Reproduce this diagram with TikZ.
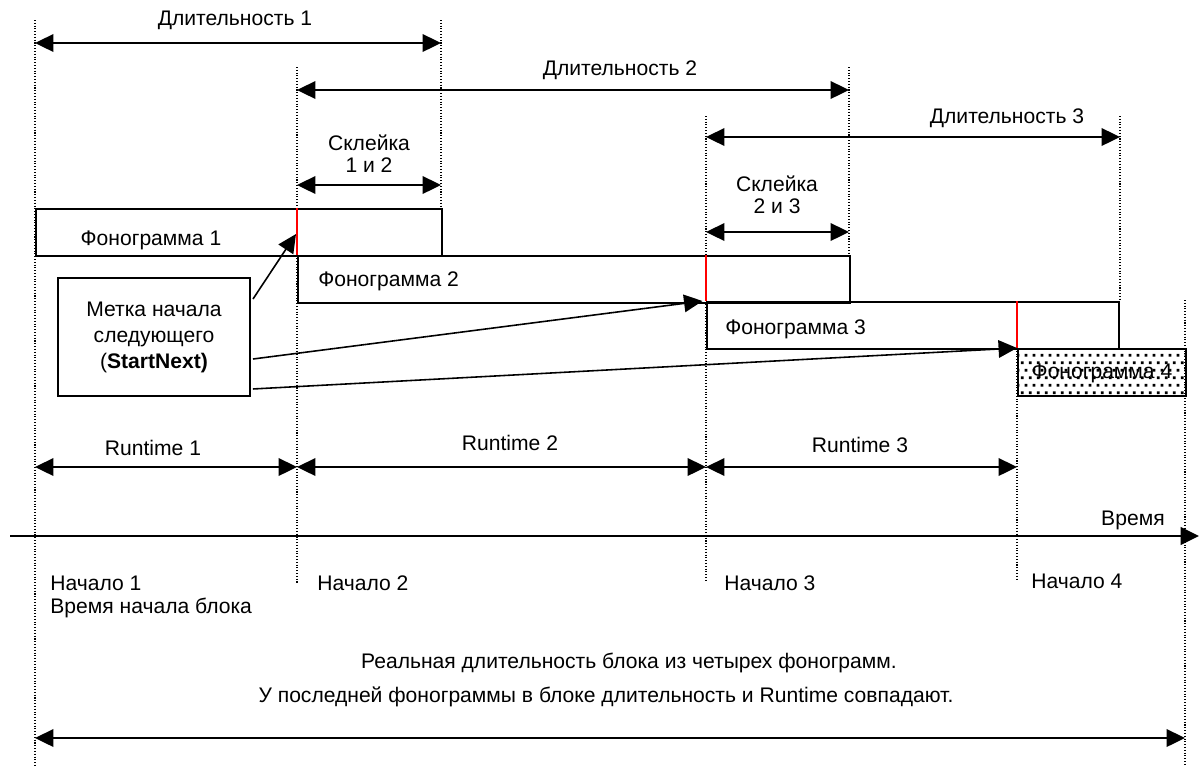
\documentclass[tikz,border=0pt]{standalone}
\usepackage{fontspec}
\setmainfont{Liberation Sans}
\usetikzlibrary{arrows.meta,patterns}

\pgfdeclarepatternformonly{stagdots}{\pgfpointorigin}{\pgfpoint{4.4pt}{8.8pt}}{\pgfpoint{4.4pt}{8.8pt}}{%
  \pgfpathrectangle{\pgfpoint{0.5pt}{0.5pt}}{\pgfpoint{1.7pt}{1.7pt}}%
  \pgfpathrectangle{\pgfpoint{2.7pt}{4.9pt}}{\pgfpoint{1.7pt}{1.7pt}}%
  \pgfusepath{fill}}

\tikzset{
  dim/.style={{Triangle[length=10.5pt,width=10pt]}-{Triangle[length=10.5pt,width=10pt]},line width=1.1pt},
  guide/.style={densely dotted,line width=0.6pt},
  track/.style={draw,line width=1.1pt,minimum height=47*0.02cm,inner sep=0pt},
  lbl/.style={font=\fontsize{12pt}{12.5pt}\selectfont,inner sep=0pt}
}

\begin{document}
\begin{tikzpicture}[x=0.02cm,y=-0.02cm]
\useasboundingbox (0,0) rectangle (1199,765);

% start points on the time axis
\coordinate (t1) at (35,0);
\coordinate (t2) at (297,0);
\coordinate (t3) at (706,0);
\coordinate (t4) at (1017,0);
\coordinate (e1) at (441,0);
\coordinate (e2) at (849,0);
\coordinate (e3) at (1120,0);
\coordinate (e4) at (1185,0);

% dotted guides
\draw[guide] (t1 |- 0,20) -- (t1 |- 0,765);
\draw[guide] (t2 |- 0,67) -- (t2 |- 0,583);
\draw[guide] (t3 |- 0,116) -- (t3 |- 0,582);
\draw[guide] (t4 |- 0,348) -- (t4 |- 0,579);
\draw[guide] (e1 |- 0,20) -- (e1 |- 0,208);
\draw[guide] (e2 |- 0,67) -- (e2 |- 0,255);
\draw[guide] (e3 |- 0,116) -- (e3 |- 0,300);
\draw[guide] (e4 |- 0,300) -- (e4 |- 0,765);

% durations
\draw[dim] (t1 |- 0,43) -- (e1 |- 0,43);
\node[lbl] (d1) at (235,20) {Длительность 1};
\draw[dim] (t2 |- 0,90) -- (e2 |- 0,90);
\node[lbl] (d2) at (620,70) {Длительность 2};
\draw[dim] (t3 |- 0,137) -- (e3 |- 0,137);
\node[lbl] (d3) at (1007,118) {Длительность 3};

% splices
\draw[dim] (t2 |- 0,185) -- (e1 |- 0,185);
\node[lbl,align=center] (s12) at (369,154) {Склейка\\1 и 2};
\draw[dim] (t3 |- 0,232) -- (e2 |- 0,232);
\node[lbl,align=center] (s23) at (777,195) {Склейка\\2 и 3};

% tracks
\node[track,anchor=north west,minimum width=406*0.02cm] (f1) at (35,208) {};
\node[lbl] at (151,240) {Фонограмма 1};
\node[track,anchor=north west,minimum width=552*0.02cm] (f2) at (297,255) {};
\node[lbl,anchor=west] at (318,281) {Фонограмма 2};
\node[track,anchor=north west,minimum width=412*0.02cm] (f3) at (706,301) {};
\node[lbl,anchor=west] at (725,329) {Фонограмма 3};
\node[track,anchor=north west,minimum width=168*0.02cm,pattern=stagdots] (f4) at (1017,348) {};
\node[lbl] at (1102,373) {Фонограмма 4};

% start-next marks
\draw[red,line width=1.1pt] (f1.north east -| f2.north west) -- (f2.north west);
\draw[red,line width=1.1pt] (f2.north east -| f3.north west) -- (f3.north west);
\draw[red,line width=1.1pt] (f3.north east -| f4.north west) -- (f4.north west);
\coordinate (m2) at (296,234);

\node[draw,line width=1.1pt,lbl,align=center,minimum width=192*0.02cm,minimum height=118*0.02cm] (mark) at (154,337)
  {Метка начала\\[2.3pt]следующего\\[2.3pt](\textbf{StartNext)}};
\draw[-{Triangle[length=10.5pt,width=10pt]},line width=0.9pt] (mark.north east) ++(2,22) -- (m2);
\draw[-{Triangle[length=10.5pt,width=10pt]},line width=0.9pt] (mark.east) ++(2,22) -- ([xshift=-2]f3.north west);
\draw[-{Triangle[length=10.5pt,width=10pt]},line width=0.9pt] (mark.south east) ++(2,-8) -- (f4.north west);

% runtimes
\draw[dim] (t1 |- 0,467) -- (t2 |- 0,467);
\node[lbl] (r1) at (153,448) {Runtime 1};
\draw[dim] (t2 |- 0,467) -- (t3 |- 0,467);
\node[lbl] (r2) at (510,443) {Runtime 2};
\draw[dim] (t3 |- 0,467) -- (t4 |- 0,467);
\node[lbl] (r3) at (860,445) {Runtime 3};

% time axis
\coordinate (ax0) at (10,536);
\coordinate (ax1) at (1199,536);
\draw[-{Triangle[length=10.5pt,width=10pt]},line width=1.4pt] (ax0) -- (ax1);
\node[lbl,anchor=east] (time) at (1165,520) {Время};

\node[lbl,anchor=west] (n1) at (50,583) {Начало 1};
\node[lbl,anchor=west] (n1b) at (50,608) {Время начала блока};
\node[lbl,anchor=west] (n2) at (317,583) {Начало 2};
\node[lbl,anchor=west] (n3) at (724,583) {Начало 3};
\node[lbl,anchor=west] (n4) at (1031,581) {Начало 4};

% whole block
\node[lbl] (real) at (629,663) {Реальная длительность блока из четырех фонограмм.};
\node[lbl] (last) at (606,697) {У последней фонограммы в блоке длительность и Runtime совпадают.};
\draw[dim] (t1 |- 0,738) -- (e4 |- 0,738);
\end{tikzpicture}
\end{document}
